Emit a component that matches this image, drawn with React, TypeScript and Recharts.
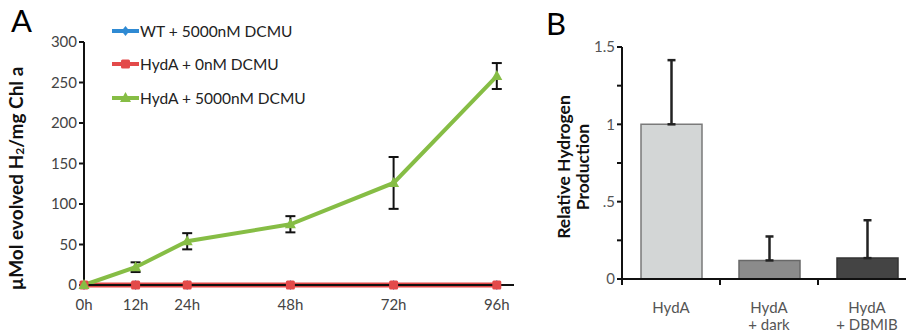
import React from 'react';
import {
  LineChart,
  Line,
  BarChart,
  Bar,
  Cell,
  XAxis,
  YAxis,
  ErrorBar,
} from 'recharts';

// Panel A: hydrogen evolved over time
const hours = [0, 12, 24, 48, 72, 96];
const wtDcmu = [0, 0, 0, 0, 0, 0];
const hydaNoDcmu = [0, 0, 0, 0, 0, 0];
const hydaDcmu = [0, 22, 54, 75, 126, 258];
const hydaDcmuErr = [0, 6, 10, 10, 32, 16];
const yTicksA = [0, 50, 100, 150, 200, 250, 300];

// Panel B: relative hydrogen production
const conditions = ['HydA', 'HydA\n+ dark', 'HydA\n+ DBMIB'];
const relative = [1.0, 0.12, 0.135];
const relativeErr = [0.415, 0.155, 0.245];
const barFills = ['#d3d6d6', '#8b8b8b', '#444444'];
const barStrokes = ['#7a7a7a', '#686868', '#333333'];
const yTicksB = [0, 0.25, 0.5, 0.75, 1, 1.25, 1.5];

const series = [
  { key: 'wt', name: 'WT + 5000nM DCMU', color: '#2f8ad3', shape: 'diamond' },
  { key: 'noDcmu', name: 'HydA + 0nM DCMU', color: '#e34a4a', shape: 'square' },
  { key: 'dcmu', name: 'HydA + 5000nM DCMU', color: '#86bd45', shape: 'triangle' },
];

const lineData = hours.map((h, i) => ({
  h,
  wt: wtDcmu[i],
  noDcmu: hydaNoDcmu[i],
  dcmu: hydaDcmu[i],
  dcmuErr: hydaDcmuErr[i],
}));

const barData = conditions.map((c, i) => ({
  name: c,
  value: relative[i],
  err: [0, relativeErr[i]],
}));

const FONT = 'Lato, "Open Sans", sans-serif';

const Marker = ({ cx, cy, shape, color }: any) => {
  if (cx == null || cy == null) return null;
  if (shape === 'diamond') {
    return <polygon points={`${cx},${cy - 5} ${cx + 4},${cy} ${cx},${cy + 5} ${cx - 4},${cy}`} fill={color} />;
  }
  if (shape === 'square') {
    return <rect x={cx - 4.5} y={cy - 4.5} width={9} height={9} rx={1.5} fill={color} />;
  }
  return <polygon points={`${cx},${cy - 6} ${cx + 5.5},${cy + 4} ${cx - 5.5},${cy + 4}`} fill={color} />;
};

// legend drawn as plain html so it does not push the plot down
const LegendA = () => (
  <div style={{ position: 'absolute', left: 112, top: 14, fontFamily: FONT, fontSize: 15.5, color: '#222' }}>
    {series.map((s) => (
      <div key={s.key} style={{ display: 'flex', alignItems: 'center', height: 33.5 }}>
        <svg width={27} height={12} style={{ marginRight: 1 }}>
          <line x1={0} y1={6} x2={27} y2={6} stroke={s.color} strokeWidth={4} />
          <Marker cx={13.5} cy={6} shape={s.shape} color={s.color} />
        </svg>
        <span>{s.name}</span>
      </div>
    ))}
  </div>
);

const YLabelA = ({ viewBox }: any) => {
  const cy = viewBox.y + viewBox.height / 2 + 15;
  return (
    <text
      x={15}
      y={cy}
      transform={`rotate(-90, 15, ${cy})`}
      textAnchor="middle"
      dominantBaseline="central"
      fontFamily={FONT}
      fontWeight="bold"
      fontSize={19}
      fill="#111"
    >
      µMol evolved H<tspan fontSize={12} dy={4}>2</tspan>
      <tspan dy={-4}>/mg Chl a</tspan>
    </text>
  );
};

const YLabelB = () => {
  const cx = 34;
  const cy = 167;
  return (
    <text
      transform={`rotate(-90, ${cx}, ${cy})`}
      x={cx}
      y={cy}
      textAnchor="middle"
      fontFamily={FONT}
      fontWeight="bold"
      fontSize={17.5}
      fill="#111"
    >
      <tspan x={cx} dy={-4}>Relative Hydrogen</tspan>
      <tspan x={cx} dy={19}>Production</tspan>
    </text>
  );
};

const BarTick = ({ x, y, payload }: any) => {
  const lines = String(payload.value).split('\n');
  const half = payload.offset || 49;
  return (
    <g>
      <line x1={x - half} y1={y - 8} x2={x - half} y2={y - 2} stroke="#111" strokeWidth={2} />
      <text x={x} y={y + 26} textAnchor="middle" fontFamily={FONT} fontSize={15} fill="#555">
        {lines.map((l, i) => (
          <tspan key={i} x={x} dy={i === 0 ? 0 : 17}>
            {l}
          </tspan>
        ))}
      </text>
    </g>
  );
};

const formatB = (v: number) => {
  if (v === 0) return '0';
  if (v === 0.5) return '.5';
  if (v === 1) return '1';
  if (v === 1.5) return '1.5';
  return '';
};

export default function App() {
  return (
    <div
      style={{
        position: 'absolute',
        left: 0,
        top: 0,
        width: 906,
        height: 333,
        overflow: 'hidden',
        background: '#fff',
        fontFamily: FONT,
      }}
    >
      <div style={{ position: 'absolute', left: 11, top: 4, fontSize: 31, lineHeight: '32px', color: '#000' }}>A</div>
      <div style={{ position: 'absolute', left: 546, top: 7, fontSize: 31, lineHeight: '32px', color: '#000' }}>B</div>

      <div style={{ position: 'absolute', left: 0, top: 0 }}>
        <LineChart width={540} height={333} data={lineData} margin={{ top: 42, right: 26, bottom: 18, left: 24 }}>
          <XAxis
            dataKey="h"
            type="number"
            domain={[0, 100]}
            ticks={hours}
            interval={0}
            tickFormatter={(v) => `${v}h`}
            tickLine={false}
            axisLine={{ stroke: '#111', strokeWidth: 2 }}
            tick={{ fill: '#444', fontSize: 15, fontFamily: FONT }}
            tickMargin={8}
            height={30}
          />
          <YAxis
            type="number"
            domain={[0, 300]}
            ticks={yTicksA}
            interval={0}
            width={60}
            axisLine={{ stroke: '#111', strokeWidth: 2 }}
            tickLine={{ stroke: '#111', strokeWidth: 2 }}
            tickSize={5}
            tick={{ fill: '#444', fontSize: 15, fontFamily: FONT }}
            label={<YLabelA />}
          />
          <Line
            dataKey="wt"
            stroke={series[0].color}
            strokeWidth={3}
            isAnimationActive={false}
            dot={(p: any) => <Marker key={`w${p.index}`} {...p} shape="diamond" color={series[0].color} />}
            activeDot={false}
          />
          <Line
            dataKey="noDcmu"
            stroke={series[1].color}
            strokeWidth={5}
            isAnimationActive={false}
            dot={(p: any) => <Marker key={`r${p.index}`} {...p} shape="square" color={series[1].color} />}
            activeDot={false}
          />
          <Line
            dataKey="dcmu"
            stroke={series[2].color}
            strokeWidth={4}
            isAnimationActive={false}
            dot={(p: any) => <Marker key={`g${p.index}`} {...p} shape="triangle" color={series[2].color} />}
            activeDot={false}
          >
            <ErrorBar dataKey="dcmuErr" direction="y" stroke="#111" strokeWidth={2} width={5} />
          </Line>
        </LineChart>
        <LegendA />
      </div>

      <div style={{ position: 'absolute', left: 540, top: 0 }}>
        <BarChart width={376} height={333} data={barData} margin={{ top: 47, right: 0, bottom: 0, left: 30 }}>
          <XAxis
            dataKey="name"
            interval={0}
            tickLine={false}
            axisLine={{ stroke: '#111', strokeWidth: 2 }}
            tick={<BarTick />}
            height={54}
          />
          <YAxis
            type="number"
            domain={[0, 1.5]}
            ticks={yTicksB}
            interval={0}
            width={52}
            tickFormatter={formatB}
            axisLine={{ stroke: '#111', strokeWidth: 2 }}
            tickLine={{ stroke: '#111', strokeWidth: 2 }}
            tickSize={5}
            tick={{ fill: '#555', fontSize: 15, fontFamily: FONT }}
            label={<YLabelB />}
          />
          <Bar dataKey="value" barSize={61} isAnimationActive={false} strokeWidth={1.5}>
            {barData.map((d, i) => (
              <Cell key={d.name} fill={barFills[i]} stroke={barStrokes[i]} />
            ))}
            <ErrorBar dataKey="err" direction="y" stroke="#222" strokeWidth={2.5} width={4} />
          </Bar>
        </BarChart>
      </div>
    </div>
  );
}
